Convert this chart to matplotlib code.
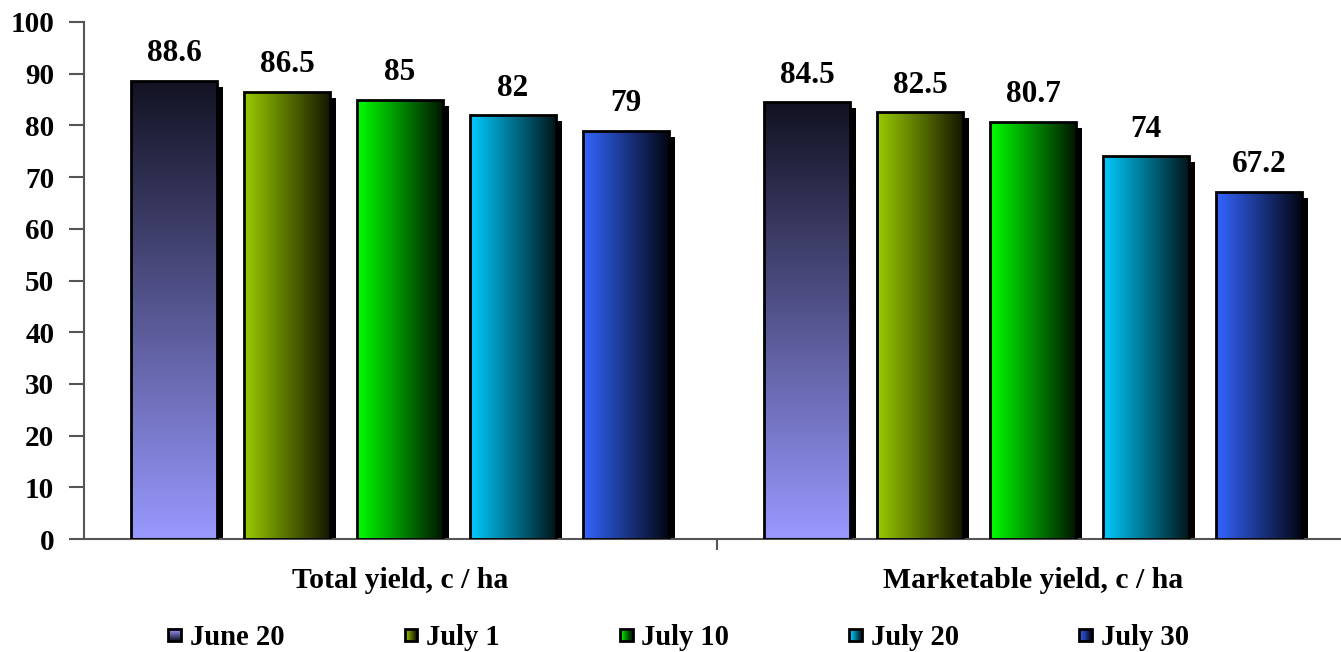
import numpy as np
import matplotlib
matplotlib.use("Agg")
import matplotlib.pyplot as plt
from matplotlib.patches import Rectangle, Patch
from matplotlib.colors import LinearSegmentedColormap
from matplotlib.legend_handler import HandlerBase

# data
categories = ["Total yield, c / ha", "Marketable yield, c / ha"]
dates = ["June 20", "July 1", "July 10", "July 20", "July 30"]
values = [
    [88.6, 84.5],   # June 20
    [86.5, 82.5],   # July 1
    [85, 80.7],     # July 10
    [82, 74],       # July 20
    [79, 67.2],     # July 30
]
value_labels = [
    ["88.6", "84.5"],
    ["86.5", "82.5"],
    ["85", "80.7"],
    ["82", "74"],
    ["79", "67.2"],
]

# gradient colours: (start, end, vertical?)
grads = [
    ("#9999FF", "#121222", True),
    ("#99CC00", "#141400", False),
    ("#00FF00", "#001400", False),
    ("#00CCFF", "#001418", False),
    ("#3366FF", "#02040f", False),
]

plt.rcParams['font.family'] = ['Liberation Serif', 'DejaVu Serif']
plt.rcParams['font.weight'] = 'bold'

fig = plt.figure(figsize=(13.41, 6.52), dpi=100)
ax = fig.add_axes([83.5 / 1341, 113 / 652, 1266 / 1341, 517 / 652])

x = np.arange(len(categories))
step = 0.1785
width = 0.136
px_x = 1 / 633.0      # data units per pixel (x)
px_y = 100 / 517.0    # data units per pixel (y)

cmaps = [LinearSegmentedColormap.from_list("g%d" % i, [g[0], g[1]]) for i, g in enumerate(grads)]

for i, d in enumerate(dates):
    cmap = cmaps[i]
    vertical = grads[i][2]
    for j in range(len(categories)):
        h = values[i][j]
        left = x[j] + (i - 2) * step - width / 2
        # shadow
        ax.add_patch(Rectangle((left + 6 * px_x, 0), width, h - 6 * px_y,
                               facecolor='black', edgecolor='none', zorder=1))
        # gradient fill clipped to bar
        if vertical:
            img = np.linspace(1, 0, 256).reshape(-1, 1)
        else:
            img = np.linspace(0, 1, 256).reshape(1, -1)
        im = ax.imshow(img, cmap=cmap, aspect='auto', extent=(left, left + width, 0, h),
                       origin='upper', zorder=2, interpolation='bilinear')
        rect = Rectangle((left, 0), width, h, facecolor='none', edgecolor='black',
                         linewidth=2, zorder=3)
        ax.add_patch(rect)
        im.set_clip_path(rect)
        ax.annotate(value_labels[i][j], (left + width / 2, h), xytext=(0, 14),
                    textcoords='offset points', ha='center', va='baseline',
                    fontsize=22.5, fontweight='bold')

ax.set_xlim(-0.5, 1.5)
ax.set_ylim(0, 100)
ax.set_yticks(np.arange(0, 101, 10))
ax.set_xticks(x)
ax.set_xticklabels(categories)
ax.set_xticks([0.5], minor=True)
ax.tick_params(axis='x', which='major', length=0, pad=20, labelsize=21.4)
ax.tick_params(axis='x', which='minor', length=8, width=1.5, color='#555555')
ax.tick_params(axis='y', length=11, width=1.5, color='#555555', labelsize=21, pad=10)
for s in ['top', 'right']:
    ax.spines[s].set_visible(False)
for s in ['left', 'bottom']:
    ax.spines[s].set_color('#555555')
    ax.spines[s].set_linewidth(1.5)


class GradientHandler(HandlerBase):
    def __init__(self, cmap, vertical):
        super().__init__()
        self.cmap = cmap
        self.vertical = vertical

    def create_artists(self, legend, orig_handle, xdescent, ydescent, width, height, fontsize, trans):
        s = min(width, height)
        x0 = -xdescent + (width - s) / 2
        y0 = -ydescent + (height - s) / 2
        n = 12
        arts = []
        for k in range(n):
            if self.vertical:
                c = self.cmap(1 - k / (n - 1))
                r = Rectangle((x0, y0 + k * s / n), s, s / n + 0.2, facecolor=c, edgecolor='none')
            else:
                c = self.cmap(k / (n - 1))
                r = Rectangle((x0 + k * s / n, y0), s / n + 0.2, s, facecolor=c, edgecolor='none')
            r.set_transform(trans)
            arts.append(r)
        border = Rectangle((x0, y0), s, s, facecolor='none', edgecolor='black', linewidth=2)
        border.set_transform(trans)
        arts.append(border)
        return arts


handles = [Patch(label=d) for d in dates]
hmap = {h: GradientHandler(cmaps[i], grads[i][2]) for i, h in enumerate(handles)}
fig.legend(handles=handles, labels=dates, handler_map=hmap, loc='center',
           bbox_to_anchor=(0.506, 0.022), ncol=5, frameon=False, fontsize=20.6,
           handlelength=0.45, handleheight=0.45, handletextpad=0.3, columnspacing=4.2)

fig.savefig("out.png", dpi=100)
